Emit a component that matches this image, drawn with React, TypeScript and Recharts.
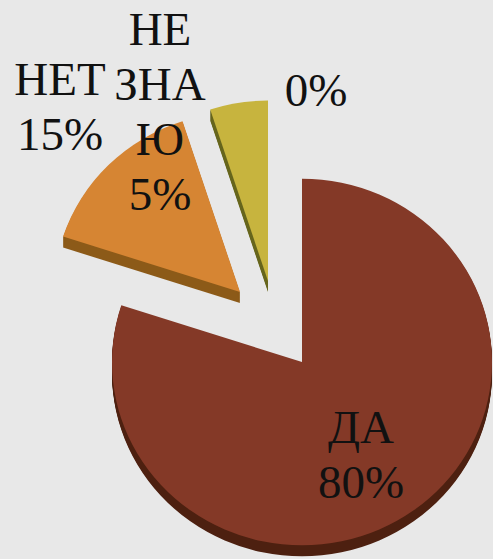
import { PieChart, Pie, Cell, Sector } from 'recharts'

const categories = ['ДА', 'НЕТ', 'НЕ ЗНАЮ', 'Нет ответа']
const shares = [80, 15, 5, 0]
const labelLines = [['ДА', '80%'], ['НЕТ', '15%'], ['НЕ', 'ЗНА', 'Ю', '5%'], ['0%']]

const topColors = ['#843927', '#d68533', '#c7b43e', '#c7b43e']
const sideColors = ['#4d2010', '#8c5a18', '#66651c', '#66651c']

// how far each slice is pulled out of the pie, and how much shorter its radius is
const explode = [
  { x: 0, y: 0, trim: 0 },
  { x: -62, y: -70, trim: 4 },
  { x: -34, y: -81, trim: 3 },
  { x: 0, y: 0, trim: 0 },
]
const labelAnchors = [
  { x: 361, y: 443 },
  { x: 60, y: 95 },
  { x: 160, y: 45 },
  { x: 316, y: 106 },
]

const CX = 302
const CY = 362
const RADIUS = 190
const SQUASH = 0.965
const DEPTH = 11
const FONT = '"Liberation Serif", serif'

const chartData = categories.map((name, i) => ({ name, value: shares[i] }))

function tiltedSlice(props: any, i: number, depth: number) {
  const e = explode[i]
  return (
    <g
      key={depth}
      transform={`translate(${e.x} ${e.y + depth}) translate(${CX} ${CY}) scale(1 ${SQUASH}) translate(${-CX} ${-CY})`}
    >
      <Sector {...props} outerRadius={RADIUS - e.trim} />
    </g>
  )
}

// stacked copies so the wall stays closed at the corners
function sideShape(props: any) {
  const i = props.index ?? 0
  const layers = Array.from({ length: DEPTH }, (_, n) => n + 1)
  return <g>{layers.map((d) => tiltedSlice(props, i, d))}</g>
}

function topShape(props: any) {
  return tiltedSlice(props, props.index ?? 0, 0)
}

function renderLabel(props: any) {
  const i = props.index
  const a = labelAnchors[i]
  return (
    <text x={a.x} y={a.y} textAnchor="middle" fontFamily={FONT} fontSize={47} fill="#111111" key={i}>
      {labelLines[i].map((line, n) => (
        <tspan key={n} x={a.x} y={a.y + n * 55}>
          {line}
        </tspan>
      ))}
    </text>
  )
}

export default function App() {
  return (
    <div style={{ position: 'absolute', left: 0, top: 0, width: 493, height: 559, background: '#e8e8e8', overflow: 'hidden' }}>
      <PieChart width={493} height={559} margin={{ top: 0, right: 0, bottom: 0, left: 0 }}>
        <Pie
          data={chartData}
          dataKey="value"
          nameKey="name"
          cx={CX}
          cy={CY}
          innerRadius={0}
          outerRadius={RADIUS}
          startAngle={90}
          endAngle={-270}
          stroke="none"
          shape={sideShape}
          isAnimationActive={false}
        >
          {chartData.map((d, i) => (
            <Cell key={d.name} fill={sideColors[i]} />
          ))}
        </Pie>
        <Pie
          data={chartData}
          dataKey="value"
          nameKey="name"
          cx={CX}
          cy={CY}
          innerRadius={0}
          outerRadius={RADIUS}
          startAngle={90}
          endAngle={-270}
          stroke="none"
          shape={topShape}
          label={renderLabel}
          labelLine={false}
          isAnimationActive={false}
        >
          {chartData.map((d, i) => (
            <Cell key={d.name} fill={topColors[i]} />
          ))}
        </Pie>
      </PieChart>
    </div>
  )
}
